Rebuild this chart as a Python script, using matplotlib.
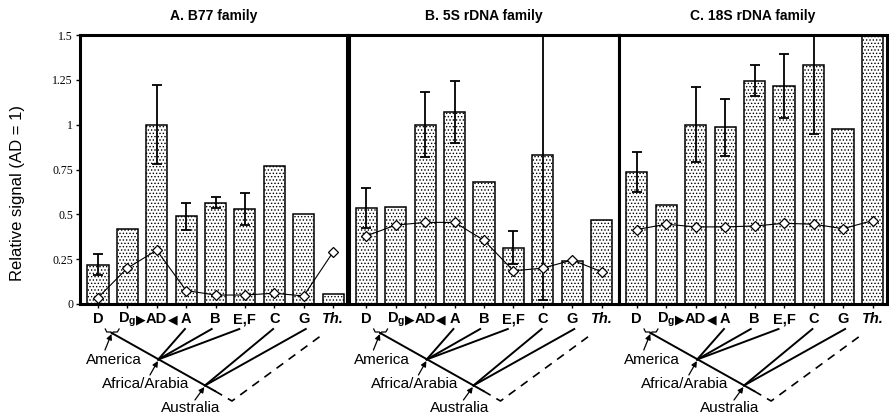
"""Relative hybridization signal of three repeat families across genomes."""
import numpy as np
import matplotlib
matplotlib.use("Agg")
import matplotlib.pyplot as plt
from matplotlib.transforms import blended_transform_factory

plt.rcParams["font.family"] = ["Liberation Sans", "DejaVu Sans"]
plt.rcParams["mathtext.fontset"] = "custom"
plt.rcParams["mathtext.rm"] = "Liberation Sans"
plt.rcParams["mathtext.bf"] = "Liberation Sans:bold"
plt.rcParams["hatch.linewidth"] = 0.6

nan = np.nan
CATEGORIES = ["D", r"$\mathbf{D_g}$", "AD", "A", "B", "E,F", "C", "G", "Th."]
YTICKS = [0, 0.25, 0.5, 0.75, 1, 1.25, 1.5]
YTICK_LABELS = ["0", "0.25", "0.5", "0.75", "1", "1.25", "1.5"]
TITLES = ["A. B77 family", "B. 5S rDNA family", "C. 18S rDNA family"]

# bars: relative signal, symmetric error, diamond line
b77_signal = [0.22, 0.42, 1.00, 0.49, 0.565, 0.53, 0.77, 0.50, 0.055]
b77_err = [0.06, nan, 0.22, 0.075, 0.03, 0.09, nan, nan, nan]
b77_line = [0.035, 0.20, 0.30, 0.075, 0.05, 0.05, 0.06, 0.045, 0.29]

s5_signal = [0.535, 0.54, 1.00, 1.07, 0.68, 0.315, 0.83, 0.24, 0.47]
s5_err = [0.11, nan, 0.18, 0.175, nan, 0.09, 0.81, nan, nan]
s5_line = [0.38, 0.44, 0.455, 0.455, 0.355, 0.185, 0.20, 0.245, 0.18]

s18_signal = [0.735, 0.55, 1.00, 0.985, 1.245, 1.215, 1.335, 0.975, 1.6]
s18_err = [0.11, nan, 0.21, 0.16, 0.085, 0.18, 0.385, nan, nan]
s18_line = [0.415, 0.445, 0.43, 0.43, 0.435, 0.45, 0.445, 0.42, 0.465]

PANELS = [(b77_signal, b77_err, b77_line),
          (s5_signal, s5_err, s5_line),
          (s18_signal, s18_err, s18_line)]

W, H = 889, 416
# axes boxes in pixels: left, width, xlim
AX_BOXES = [(80, 267.5, (-0.61, 8.49)),
            (349, 270, (-0.59, 8.59)),
            (619, 268, (-0.60, 8.49))]
AX_BOTTOM, AX_HEIGHT = 112, 269


def draw_tree(ax):
    tr = blended_transform_factory(ax.transData, ax.transAxes)
    y = lambda px: -px / AX_HEIGHT
    kw = dict(color="black", lw=1.4, transform=tr, clip_on=False)
    # category labels, drawn by hand so they share one baseline
    for j, lab in enumerate(CATEGORIES):
        ax.text(j, y(19), lab, transform=tr, ha="center", va="baseline",
                fontsize=10.5, fontweight="bold",
                fontstyle="italic" if lab == "Th." else "normal")
    # arrowheads between Dg / AD / A
    ax.text(1.47, y(19), "\u25b6", transform=tr, ha="center", va="baseline",
            fontsize=9, family="DejaVu Sans")
    ax.text(2.53, y(19), "\u25c0", transform=tr, ha="center", va="baseline",
            fontsize=9, family="DejaVu Sans")
    # brace under D / Dg
    bx = [0.25, 0.3, 0.44, 0.48, 0.52, 0.66, 0.72]
    by = [25, 28, 28, 30, 28, 28, 25]
    ax.plot(bx, [y(v) for v in by], color="black", lw=0.9, transform=tr, clip_on=False)
    # main branch and dashed outgroup
    ax.plot([0.47, 3.98], [y(29), y(87)], **kw)
    ax.plot([3.98, 4.56, 7.62], [y(87), y(97), y(31)], color="black", lw=1.2,
            ls=(0, (5, 4)), transform=tr, clip_on=False)
    for x0 in [2.96, 3.87, 4.81]:
        ax.plot([x0, 2.05], [y(25), y(55.5)], **kw)
    for x0 in [5.96, 7.07]:
        ax.plot([x0, 3.64], [y(25), y(81.5)], **kw)
    for label, tx, ty, tail, head in [("America", 0.53, 55.5, (0.24, 46), (0.46, 30)),
                                      ("Africa/Arabia", 1.63, 79.5, (1.77, 71), (2.04, 57)),
                                      ("Australia", 3.16, 104.5, (3.30, 96), (3.62, 83))]:
        ax.text(tx, y(ty), label, transform=tr, ha="center", va="center", fontsize=11)
        ax.annotate("", xy=(head[0], y(head[1])), xytext=(tail[0], y(tail[1])),
                    xycoords=tr, textcoords=tr, annotation_clip=False,
                    arrowprops=dict(arrowstyle="-|>", color="black", lw=0.9,
                                    mutation_scale=8, shrinkA=0, shrinkB=0))


fig = plt.figure(figsize=(W / 100, H / 100), dpi=100)
x = np.arange(len(CATEGORIES))
for i, ((signal, err, line), (left, width, xlim)) in enumerate(zip(PANELS, AX_BOXES)):
    ax = fig.add_axes([left / W, AX_BOTTOM / H, width / W, AX_HEIGHT / H])
    ax.bar(x, signal, width=0.72, facecolor="white", edgecolor="black",
           linewidth=1.1, hatch=".....", zorder=2)
    ax.errorbar(x, signal, yerr=err, fmt="none", ecolor="black", elinewidth=1.3,
                capsize=3.5, capthick=1.3, zorder=3)
    ax.plot(x, line, color="black", lw=0.8, marker="D", markersize=5,
            markerfacecolor="white", markeredgecolor="black", markeredgewidth=0.9,
            zorder=4)
    ax.set_xlim(*xlim)
    ax.set_ylim(0, 1.5)
    ax.set_xticks(x)
    ax.set_xticklabels([])
    ax.tick_params(axis="x", direction="out", length=3, width=1)
    if i == 0:
        ax.set_yticks(YTICKS)
        ax.set_yticklabels(YTICK_LABELS, family="Liberation Serif", fontsize=8.5)
        ax.tick_params(axis="y", direction="out", length=3, width=1, pad=2)
    else:
        ax.set_yticks([])
    for sp in ax.spines.values():
        sp.set_linewidth(2.2)
    ax.set_title(TITLES[i], fontsize=10, fontweight="bold", pad=11)
    draw_tree(ax)

fig.text(18 / W, 1 - 193 / H, "Relative signal (AD = 1)", rotation=90,
         ha="center", va="center", fontsize=12)
fig.savefig("out.png", dpi=100)
